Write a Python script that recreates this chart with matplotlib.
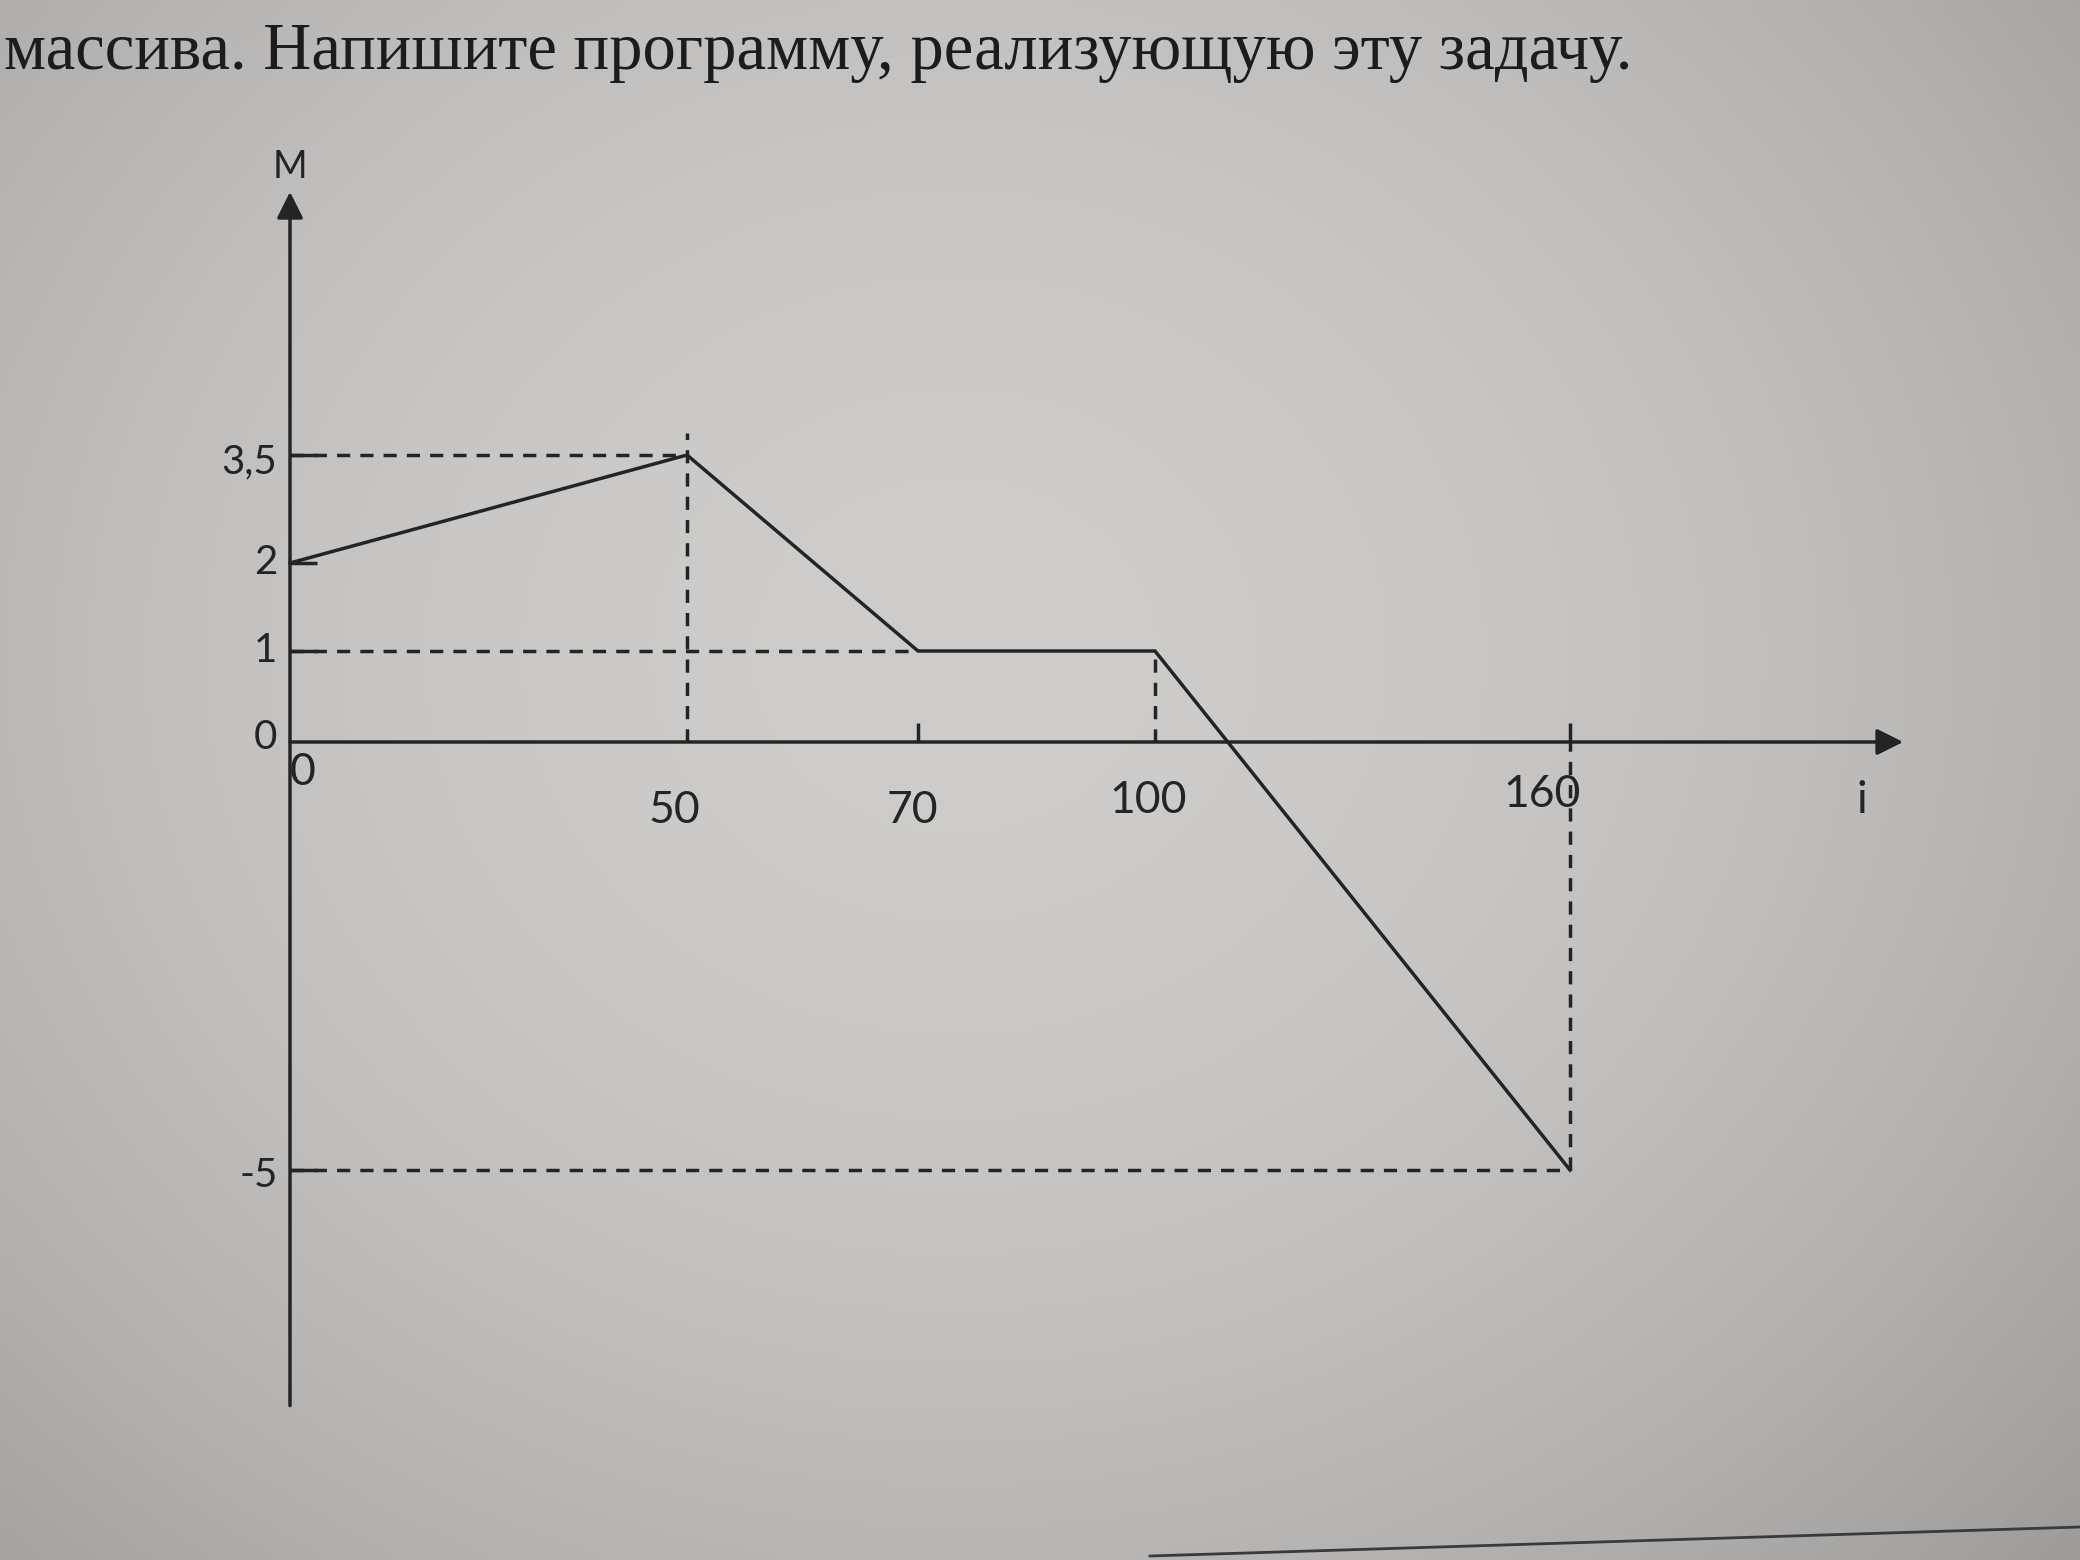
import numpy as np
import matplotlib
matplotlib.use("Agg")
import matplotlib.pyplot as plt
from matplotlib.lines import Line2D
from matplotlib.transforms import blended_transform_factory

# --- data ---
I_VALS = [0, 50, 70, 100, 160]          # i
M_VALS = [2, 3.5, 1, 1, -5]             # M(i)
X_TICKS = [0, 50, 70, 100, 160]
X_TICK_LABELS = ["0", "50", "70", "100", "160"]
Y_TICKS = [3.5, 2, 1, 0, -5]
Y_TICK_LABELS = ["3,5", "2", "1", "0", "-5"]

TITLE = "массива. Напишите программу, реализующую эту задачу."

# --- layout (schematic, not to scale: pixel position of each axis value) ---
W, H = 2080, 1560
X_KNOTS, X_PIX = [0, 50, 70, 100, 160], [290, 687, 918, 1155, 1570]
Y_KNOTS, Y_PIX = [-5, 0, 1, 2, 3.5], [1170, 742, 651, 563, 455]

INK = "#242424"
LW = 2.5
DASH = (3.8, 2.9)
LABEL_FONT = ["Lato", "DejaVu Sans"]

# label offsets in points (dx, dy) from the tick point
X_LABEL_OFFS = [(9, -22), (-9, -49), (-4, -49), (-5, -42), (-20, -38)]
Y_LABEL_DY = [-5, 0, 0, 3.5, -4]


def piecewise(knots, pos):
    k = np.asarray(knots, float)
    p = np.asarray(pos, float)

    def make(a, b):
        def f(v):
            v = np.asarray(v, float)
            lo = b[0] + (v - a[0]) * (b[1] - b[0]) / (a[1] - a[0])
            hi = b[-1] + (v - a[-1]) * (b[-1] - b[-2]) / (a[-1] - a[-2])
            return np.where(v < a[0], lo, np.where(v > a[-1], hi, np.interp(v, a, b)))
        return f

    return make(k, p), make(p, k)


fig = plt.figure(figsize=(W / 100, H / 100), dpi=100)

# paper background with the photo's vignette
bg = fig.add_axes([0, 0, 1, 1], zorder=0)
yy, xx = np.mgrid[0:H:10, 0:W:10]
r2 = ((xx - 950) / 1200.0) ** 2 + ((yy - 650) / 1050.0) ** 2
v = np.clip(0.81 - 0.12 * r2, 0.52, 0.82)
rgb = np.dstack([v, v * 0.992, v * 0.982])
bg.imshow(rgb, extent=(0, 1, 0, 1), aspect="auto", interpolation="bicubic")
bg.axis("off")

ax = fig.add_axes([0, 0, 1, 1], zorder=1)
ax.patch.set_alpha(0)
fx, ix = piecewise(X_KNOTS, X_PIX)
fy, iy = piecewise(Y_KNOTS, [H - p for p in Y_PIX])
ax.set_xscale("function", functions=(fx, ix))
ax.set_yscale("function", functions=(fy, iy))
ax.set_xlim(float(ix(0)), float(ix(W)))
ax.set_ylim(float(iy(0)), float(iy(H)))
ax.axis("off")

# axes with arrows
tx = blended_transform_factory(ax.transAxes, ax.transData)
ty = blended_transform_factory(ax.transData, ax.transAxes)
arrow = dict(arrowstyle="-|>", color=INK, lw=LW, mutation_scale=40,
             shrinkA=0, shrinkB=0)
ax.annotate("", xy=(0.915, 0), xycoords=tx, xytext=(0, 0), textcoords="data",
            arrowprops=arrow)
ax.annotate("", xy=(0, 0.877), xycoords=ty, xytext=(0, 0.099), textcoords=ty,
            arrowprops=arrow)
ax.text(0.003, 0.893, "M", transform=ty, ha="center", va="center",
        fontsize=27, color=INK, family=LABEL_FONT)
ax.annotate("i", xy=(0.895, 0), xycoords=tx, xytext=(0, -42),
            textcoords="offset points", ha="center", va="center",
            fontsize=32, color=INK, family=LABEL_FONT)

# the polyline
ax.plot(I_VALS, M_VALS, color=INK, lw=LW, solid_joinstyle="miter", zorder=3)

# dashed guides to the marked points
peak = int(np.argmax(M_VALS))
last = len(I_VALS) - 1
dash_kw = dict(color=INK, lw=LW, dashes=DASH, zorder=2)
ax.plot([0, I_VALS[peak]], [M_VALS[peak]] * 2, **dash_kw)
ax.plot([I_VALS[peak]] * 2, [0, M_VALS[peak] + 0.3], **dash_kw)
ax.plot([0, I_VALS[2]], [M_VALS[2]] * 2, **dash_kw)
ax.plot([I_VALS[3]] * 2, [0, M_VALS[3]], **dash_kw)
ax.plot([I_VALS[last]] * 2, [M_VALS[last], 0], **dash_kw)
ax.plot([0, I_VALS[last]], [M_VALS[last]] * 2, **dash_kw)

# tick marks: inward on the M axis, upward on the i axis
yt = [t for t in Y_TICKS if t != 0]
ax.plot([0] * len(yt), yt, ls="none", marker=[(0, 0), (1, 0)], ms=39,
        mec=INK, mfc="none", mew=LW, zorder=3)
xt = [70, 160]
ax.plot(xt, [0] * len(xt), ls="none", marker=[(0, 0), (0, 1)], ms=28,
        mec=INK, mfc="none", mew=LW, zorder=3)

# tick labels
for t, lab, (dx, dy) in zip(X_TICKS, X_TICK_LABELS, X_LABEL_OFFS):
    ax.annotate(lab, xy=(t, 0), xytext=(dx, dy), textcoords="offset points",
                ha="center", va="center", fontsize=32, color=INK, family=LABEL_FONT)
for t, lab, dy in zip(Y_TICKS, Y_TICK_LABELS, Y_LABEL_DY):
    ax.annotate(lab, xy=(0, t), xytext=(-9, dy), textcoords="offset points",
                ha="right", va="center", fontsize=29, color=INK, family=LABEL_FONT)

# text line of the page above the chart and the rule at the bottom
fig.text(0.002, 1 - 69 / H, TITLE, fontsize=48, va="baseline", ha="left",
         color="#1c1c1c", family=["Liberation Serif", "DejaVu Serif"])
fig.add_artist(Line2D([1150 / W, 1.0], [1 - 1556 / H, 1 - 1527 / H],
                      color="#3a3a3a", lw=2, transform=fig.transFigure))

fig.savefig("out.png", dpi=100)
